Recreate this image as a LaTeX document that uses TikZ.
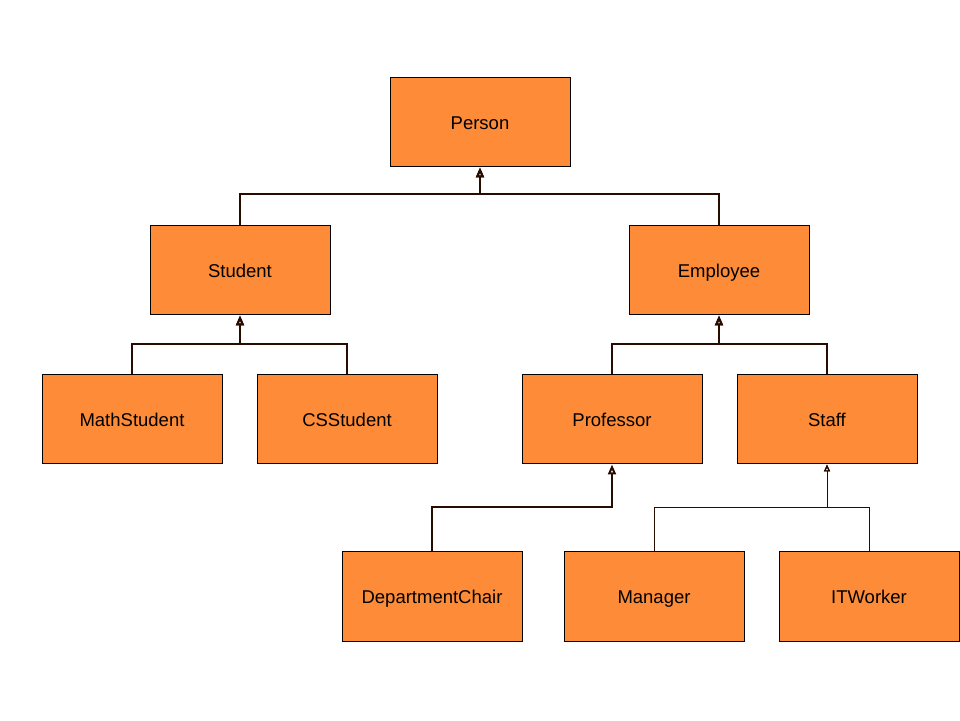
\documentclass[tikz,border=0pt]{standalone}
\usepackage{fontspec}
\setmainfont{Liberation Sans}
\usetikzlibrary{arrows.meta}
\definecolor{boxfill}{RGB}{253,139,56}
\definecolor{linec}{RGB}{40,12,0}
\begin{document}
\begin{tikzpicture}[x=1pt,y=1pt,
  cls/.style={draw=black,line width=1pt,fill=boxfill,minimum width=180pt,minimum height=89pt,inner sep=0pt,text height=16pt,text depth=2pt,font=\fontsize{18.5}{22}\selectfont},
  conn/.style={draw=linec,line width=2pt,-{Triangle[open,length=10pt,width=8pt,line width=2pt]}},
  thinconn/.style={draw=linec,line width=1pt,-{Triangle[open,length=7pt,width=6pt,line width=1.2pt]}}]
\useasboundingbox (0,0) rectangle (960,720);
\fill[white] (0,0) rectangle (960,720);
\node[cls] (person) at (480,597.5) {Person};
\node[cls] (student) at (240,449.5) {Student};
\node[cls] (employee) at (719,449.5) {Employee};
\node[cls] (math) at (132,300.5) {MathStudent};
\node[cls] (cs) at (347,300.5) {CSStudent};
\node[cls] (prof) at (612,300.5) {Professor};
\node[cls] (staff) at (827,300.5) {Staff};
\node[cls] (chair) at (432,123.5) {DepartmentChair};
\node[cls] (manager) at (654,123.5) {Manager};
\node[cls] (it) at (869,123.5) {ITWorker};
\draw[conn] (student.north) -- ++(0,31) -| (person.south);
\draw[conn] (employee.north) -- ++(0,31) -| (person.south);
\draw[conn] (math.north) -- ++(0,30) -| (student.south);
\draw[conn] (cs.north) -- ++(0,30) -| (student.south);
\draw[conn] (prof.north) -- ++(0,30) -| (employee.south);
\draw[conn] (staff.north) -- ++(0,30) -| (employee.south);
\draw[conn] (chair.north) -- ++(0,44) -| (prof.south);
\draw[thinconn] (manager.north) -- ++(0,44) -| (staff.south);
\draw[thinconn] (it.north) -- ++(0,44) -| (staff.south);
\end{tikzpicture}
\end{document}
